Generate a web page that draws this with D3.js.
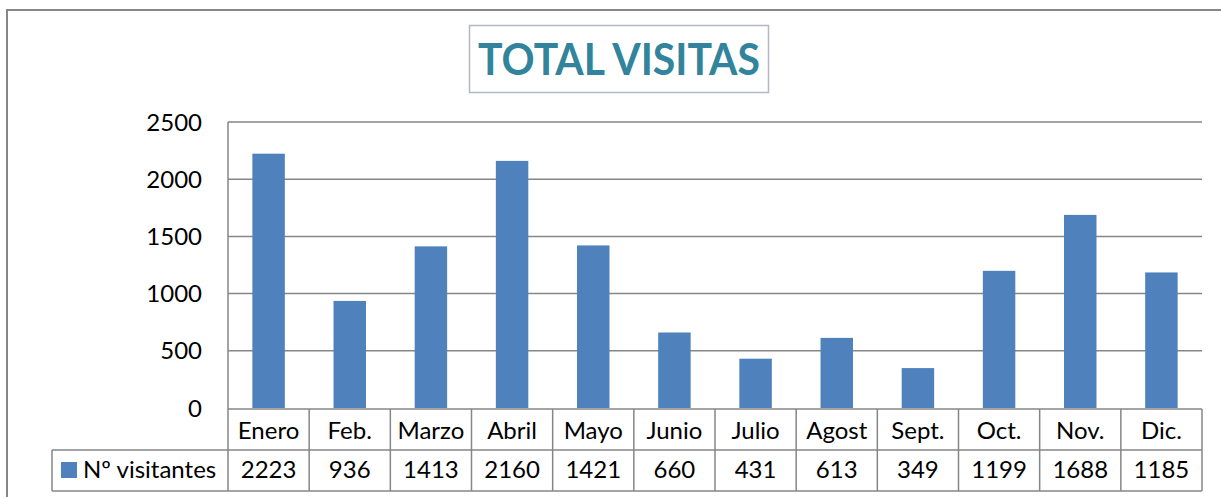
<!DOCTYPE html>
<html>
<head>
<meta charset="utf-8">
<script src="https://cdn.jsdelivr.net/npm/d3@7"></script>
<style>
  body { margin: 0; background: #fff; }
  svg text { font-family: Lato, "Open Sans", sans-serif; }
</style>
</head>
<body>
<script>
const TITLE = 'TOTAL VISITAS';
const SERIES_NAME = 'Nº visitantes';
const MONTHS = ['Enero', 'Feb.', 'Marzo', 'Abril', 'Mayo', 'Junio', 'Julio', 'Agost', 'Sept.', 'Oct.', 'Nov.', 'Dic.'];
const VISITS = [2223, 936, 1413, 2160, 1421, 660, 431, 613, 349, 1199, 1688, 1185];
const Y_TICKS = [0, 500, 1000, 1500, 2000, 2500];

const W = 1221, H = 497;
const plot = { left: 228, right: 1202, top: 122, bottom: 408 };
const table = { legendLeft: 52, rowTop: 409, rowMid: 450, rowBottom: 491 };
const GRID = '#868686';
const FS = 24;

const svg = d3.select('body').append('svg')
  .attr('width', W)
  .attr('height', H);

// outer chart frame
svg.append('rect')
  .attr('x', 7).attr('y', 10)
  .attr('width', W + 10).attr('height', H + 10)
  .attr('fill', 'none')
  .attr('stroke', GRID)
  .attr('stroke-width', 2);

// title box
svg.append('rect')
  .attr('x', 469.5).attr('y', 25.5)
  .attr('width', 299).attr('height', 67)
  .attr('fill', '#fff')
  .attr('stroke', '#b4b6c4')
  .attr('stroke-width', 1.5);

svg.append('text')
  .attr('x', 619).attr('y', 75)
  .attr('text-anchor', 'middle')
  .attr('font-size', 44)
  .attr('font-weight', 'bold')
  .attr('fill', '#31849b')
  .attr('textLength', 282)
  .attr('lengthAdjust', 'spacingAndGlyphs')
  .text(TITLE);

const x = d3.scaleBand()
  .domain(MONTHS)
  .range([plot.left, plot.right])
  .paddingInner(0.6)
  .paddingOuter(0.3);

const xCol = d3.scaleBand()
  .domain(MONTHS)
  .range([plot.left, plot.right]);

const y = d3.scaleLinear()
  .domain([0, 2500])
  .range([plot.bottom, plot.top]);

// gridlines
svg.append('g')
  .selectAll('line')
  .data(Y_TICKS.filter(d => d > 0))
  .join('line')
    .attr('x1', plot.left).attr('x2', plot.right)
    .attr('y1', d => y(d)).attr('y2', d => y(d))
    .attr('stroke', GRID)
    .attr('stroke-width', 1.5);

// y axis labels
svg.append('g')
  .selectAll('text')
  .data(Y_TICKS)
  .join('text')
    .attr('x', 202)
    .attr('y', d => y(d))
    .attr('dy', '0.36em')
    .attr('text-anchor', 'end')
    .attr('font-size', FS)
    .attr('fill', '#000')
    .text(d => d);

// bars
svg.append('g')
  .selectAll('rect')
  .data(VISITS)
  .join('rect')
    .attr('x', (d, i) => x(MONTHS[i]))
    .attr('width', x.bandwidth())
    .attr('y', d => y(d))
    .attr('height', d => y(0) - y(d))
    .attr('fill', '#4f81bd');

// left axis line
svg.append('line')
  .attr('x1', plot.left).attr('x2', plot.left)
  .attr('y1', plot.top).attr('y2', table.rowBottom)
  .attr('stroke', GRID)
  .attr('stroke-width', 1.5);

// data table
const tg = svg.append('g').attr('stroke', GRID).attr('stroke-width', 1.5);
tg.append('line')
  .attr('x1', plot.left).attr('x2', plot.right)
  .attr('y1', table.rowTop).attr('y2', table.rowTop);
tg.append('line')
  .attr('x1', table.legendLeft).attr('x2', plot.right)
  .attr('y1', table.rowMid).attr('y2', table.rowMid);
tg.append('line')
  .attr('x1', table.legendLeft).attr('x2', plot.right)
  .attr('y1', table.rowBottom).attr('y2', table.rowBottom);
tg.append('line')
  .attr('x1', table.legendLeft).attr('x2', table.legendLeft)
  .attr('y1', table.rowMid).attr('y2', table.rowBottom);
tg.selectAll('line.col')
  .data(MONTHS)
  .join('line')
    .attr('class', 'col')
    .attr('x1', d => xCol(d) + xCol.bandwidth())
    .attr('x2', d => xCol(d) + xCol.bandwidth())
    .attr('y1', table.rowTop).attr('y2', table.rowBottom);

// category labels
svg.append('g')
  .selectAll('text')
  .data(MONTHS)
  .join('text')
    .attr('x', d => xCol(d) + xCol.bandwidth() / 2)
    .attr('y', 439)
    .attr('text-anchor', 'middle')
    .attr('font-size', FS)
    .attr('fill', '#000')
    .text(d => d);

// values row
svg.append('g')
  .selectAll('text')
  .data(VISITS)
  .join('text')
    .attr('x', (d, i) => xCol(MONTHS[i]) + xCol.bandwidth() / 2)
    .attr('y', 478)
    .attr('text-anchor', 'middle')
    .attr('font-size', FS)
    .attr('fill', '#000')
    .text(d => d);

// legend key
svg.append('rect')
  .attr('x', 61).attr('y', 462)
  .attr('width', 16).attr('height', 16)
  .attr('fill', '#4f81bd');

svg.append('text')
  .attr('x', 83).attr('y', 478)
  .attr('font-size', FS)
  .attr('fill', '#000')
  .text(SERIES_NAME);
</script>
</body>
</html>
